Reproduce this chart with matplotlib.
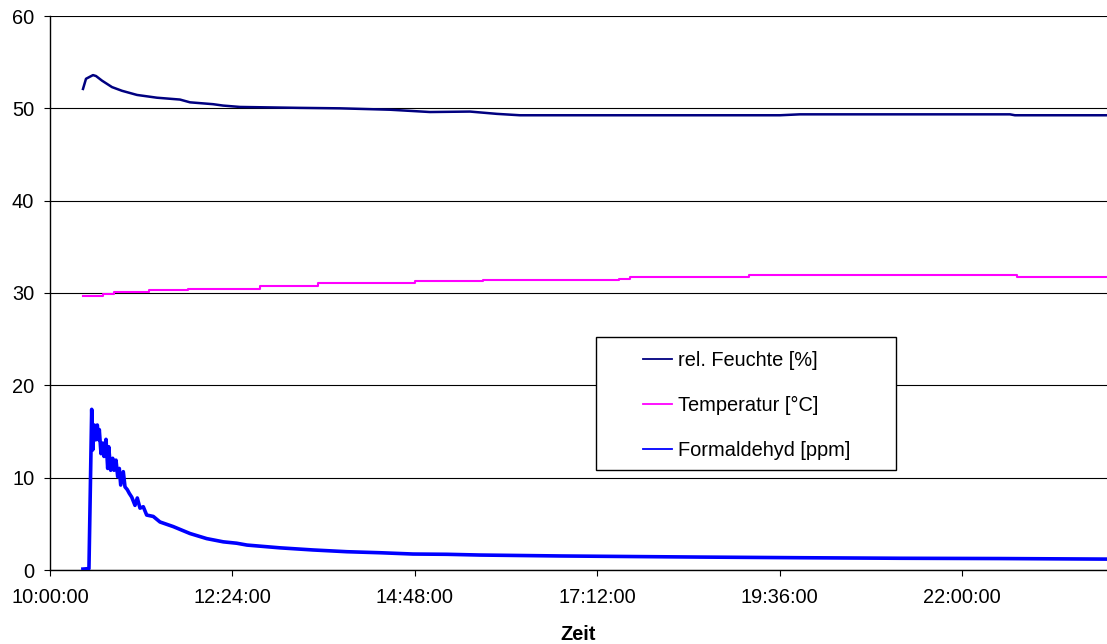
import matplotlib
matplotlib.use("Agg")
import matplotlib.pyplot as plt
import matplotlib.dates as mdates
from matplotlib.patches import Rectangle
import pandas as pd

DAY = "2000-01-01 "

# Relative humidity [%]
rh_time = ["10:26:03", "10:28:25", "10:33:57", "10:36:19", "10:41:03", "10:48:57",
           "10:56:50", "11:08:41", "11:24:28", "11:42:38", "11:50:32", "12:08:41",
           "12:16:34", "12:30:00", "13:17:22", "13:48:57", "14:28:25", "15:00:00",
           "15:31:35", "15:52:54", "16:11:03", "19:36:19", "19:52:06", "22:37:54",
           "22:41:50", "23:54:28"]
rh_value = [52.1, 53.2, 53.6, 53.5, 53.0, 52.3,
            51.9, 51.45, 51.15, 50.95, 50.65, 50.45,
            50.3, 50.15, 50.05, 50.0, 49.85, 49.6,
            49.65, 49.4, 49.25, 49.25, 49.35, 49.35,
            49.25, 49.25]

# Temperature [°C], logged in steps
temp_time = ["10:26:03", "10:41:50", "10:50:32", "11:18:10", "11:48:57", "12:45:47",
             "13:31:35", "14:48:09", "15:41:50", "16:42:38", "17:29:13", "17:37:53",
             "19:11:50", "22:43:25", "23:54:28"]
temp_value = [29.7, 29.85, 30.1, 30.3, 30.45, 30.75,
              31.05, 31.25, 31.4, 31.45, 31.55, 31.75,
              31.95, 31.75, 31.75]

# Formaldehyde [ppm]
hcho_time = ["10:26:00", "10:30:45", "10:32:55", "10:33:43", "10:34:58", "10:36:05",
             "10:37:20", "10:38:27", "10:38:55", "10:40:16", "10:41:36", "10:42:38",
             "10:44:13", "10:45:33", "10:46:20", "10:47:55", "10:49:30", "10:50:32",
             "10:52:06", "10:53:27", "10:54:43", "10:55:49", "10:57:52", "10:59:13",
             "11:01:02", "11:02:36", "11:04:30", "11:07:06", "11:08:55", "11:11:03",
             "11:13:39", "11:16:20", "11:21:33", "11:26:50", "11:37:20", "11:50:32",
             "12:03:43", "12:16:49", "12:27:24", "12:35:32", "13:01:35", "13:27:38",
             "13:54:28", "14:20:32", "14:46:35", "15:13:25", "15:39:28", "16:42:38",
             "18:33:10", "19:52:06", "21:11:03", "22:30:00", "23:54:28"]
hcho_value = [0.1, 0.15, 17.4, 13.0, 15.7, 14.1,
              15.7, 14.1, 15.2, 12.6, 13.75, 12.3,
              14.15, 11.0, 13.35, 10.8, 12.1, 10.8,
              11.9, 10.1, 11.0, 9.2, 10.65, 9.0,
              8.7, 8.3, 7.9, 7.0, 7.8, 6.7,
              6.85, 5.95, 5.8, 5.2, 4.7, 3.95,
              3.4, 3.05, 2.9, 2.7, 2.4, 2.17,
              1.98, 1.87, 1.73, 1.70, 1.62, 1.52,
              1.40, 1.33, 1.27, 1.24, 1.18]

series_labels = ["rel. Feuchte [%]", "Temperatur [°C]", "Formaldehyd [ppm]"]
x_tick_labels = ["10:00:00", "12:24:00", "14:48:00", "17:12:00", "19:36:00", "22:00:00"]
y_ticks = [0, 10, 20, 30, 40, 50, 60]
x_start, x_end = "10:00:00", "23:54:30"


def to_dt(times):
    return pd.to_datetime([DAY + t for t in times])


plt.rcParams["font.family"] = ["Liberation Sans", "DejaVu Sans"]
FS = 14.4

fig = plt.figure(figsize=(11.07, 6.44), dpi=100)
ax = fig.add_axes([50 / 1107, 74 / 644, 1057 / 1107, 554 / 644])

ax.plot(to_dt(rh_time), rh_value, color="#000080", lw=1.8, label=series_labels[0], zorder=3)
ax.step(to_dt(temp_time), temp_value, where="post", color="#FF00FF", lw=1.5,
        label=series_labels[1], zorder=3)
ax.plot(to_dt(hcho_time), hcho_value, color="#0000FF", lw=2.6, label=series_labels[2],
        zorder=3)

ax.set_xlim(pd.Timestamp(DAY + x_start), pd.Timestamp(DAY + x_end))
ax.set_ylim(0, 60)
ax.set_yticks(y_ticks)
ax.set_xticks(to_dt(x_tick_labels))
ax.xaxis.set_major_formatter(mdates.DateFormatter("%H:%M:%S"))

ax.yaxis.grid(True, color="black", lw=0.8)
ax.set_axisbelow(True)
for side in ("top", "right"):
    ax.spines[side].set_visible(False)
for side in ("left", "bottom"):
    ax.spines[side].set_color("black")
    ax.spines[side].set_linewidth(1.0)

ax.tick_params(axis="y", direction="out", length=4.3, width=0.8, pad=7, labelsize=FS)
ax.tick_params(axis="x", direction="out", length=4.5, width=0.8, pad=8.5, labelsize=FS)

ax.set_xlabel("Zeit", fontsize=FS, fontweight="bold", labelpad=13)

# legend frame drawn separately so its padding can be set freely
frame = Rectangle((596 / 1107, 1 - 470 / 644), 300 / 1107, 133 / 644,
                  transform=fig.transFigure, facecolor="white", edgecolor="black",
                  lw=1.0, zorder=4.5, clip_on=False)
ax.add_patch(frame)
leg = ax.legend(loc="center", bbox_to_anchor=(746.5 / 1107, 1 - 405.5 / 644),
                bbox_transform=fig.transFigure, frameon=False, fontsize=FS,
                handlelength=1.45, handletextpad=0.3, labelspacing=1.32,
                borderpad=0)
leg.set_zorder(5)
for line in leg.get_lines():
    line.set_linewidth(1.3)

fig.savefig("out.png", dpi=100)
